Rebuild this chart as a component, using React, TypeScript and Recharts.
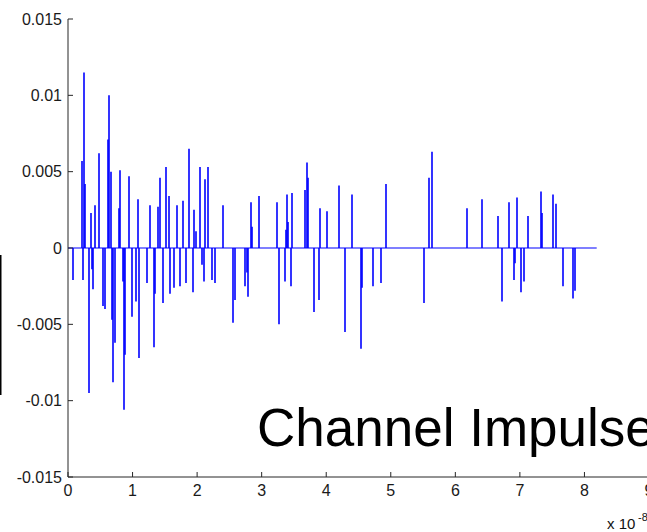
import React from 'react';
import { ComposedChart, Bar, XAxis, YAxis, ReferenceLine } from 'recharts';

// time axis values are in units of 1e-8 s
const stemTimes = [
  0.081, 0.225, 0.236, 0.251, 0.26, 0.333, 0.36, 0.375, 0.395, 0.415,
  0.478, 0.54, 0.581, 0.623, 0.643, 0.664, 0.685, 0.705, 0.726,
  0.788, 0.809, 0.85, 0.871, 0.891, 0.953, 0.995, 1.047, 1.078, 1.104,
  1.228, 1.274, 1.325, 1.341, 1.398, 1.419, 1.476, 1.522, 1.563,
  1.585, 1.647, 1.687, 1.729, 1.786, 1.833, 1.873, 1.935, 1.957, 1.977,
  2.039, 2.081, 2.101, 2.127, 2.163, 2.225, 2.271, 2.395,
  2.561, 2.581, 2.747, 2.767, 2.788, 2.829, 2.85, 2.958,
  3.233, 3.268, 3.357, 3.372, 3.392, 3.414, 3.454, 3.476,
  3.667, 3.702, 3.724, 3.806, 3.888, 3.91, 4.019,
  4.205, 4.295, 4.395, 4.535, 4.555, 4.726, 4.85, 4.933,
  5.516, 5.6, 5.646, 6.183,
  6.411, 6.659, 6.721, 6.829, 6.907, 6.927, 6.949, 7.011, 7.057, 7.119,
  7.326, 7.346, 7.516, 7.558, 7.662, 7.826, 7.848,
];

const stemAmps = [
  -0.0021, 0.0057, -0.0021, 0.0115, 0.0042, -0.0095, 0.0023, -0.0014, -0.0027, 0.0028,
  0.0062, -0.0038, -0.004, 0.0071, 0.01, 0.005, -0.0047, -0.0088, -0.0062,
  0.0026, 0.0051, -0.0022, -0.0106, -0.007, 0.0047, -0.0045, -0.0035, 0.0032, -0.0072,
  -0.0023, 0.0028, -0.0065, -0.003, 0.0027, 0.0046, -0.0036, 0.0053, 0.0034,
  -0.003, -0.0026, 0.0028, -0.0025, 0.0031, -0.0023, 0.0065, -0.0029, 0.0025, 0.0011,
  0.0053, -0.0011, -0.0022, 0.0045, 0.0053, -0.0021, -0.0023, 0.0028,
  -0.0049, -0.0034, -0.0025, -0.0016, -0.0032, 0.003, 0.0014, 0.0034,
  0.003, -0.005, -0.0022, 0.0012, 0.0035, 0.0017, -0.0025, 0.0036,
  0.0038, 0.0056, 0.0046, -0.0042, -0.0034, 0.0026, 0.0024,
  0.0041, -0.0055, 0.0035, -0.0066, -0.0026, -0.0025, -0.0023, 0.0042,
  -0.0036, 0.0046, 0.0063, 0.0026,
  0.0032, 0.0021, -0.0035, 0.003, -0.0021, -0.001, 0.0033, -0.0029, -0.0022, 0.0021,
  0.0037, 0.0023, 0.0035, 0.0029, -0.0025, -0.0033, -0.0028,
];

const timeEnd = 8.19;
const xTicks = [0, 1, 2, 3, 4, 5, 6, 7, 8, 9];
const yTicks = [-0.015, -0.01, -0.005, 0, 0.005, 0.01, 0.015];
const yTickLabels = ['-0.015', '-0.01', '-0.005', '0', '0.005', '0.01', '0.015'];

const data = stemTimes.map((t, i) => ({ t, h: stemAmps[i] }));

const BLUE = '#0000ff';
const AXIS = '#262626';
const FONT = '"Liberation Sans", Arial, Helvetica, sans-serif';

const Stem = (props: any) => {
  const { x, y, width, height } = props;
  if (x == null || y == null) return null;
  const cx = Math.round(x + (width || 0) / 2);
  return <line x1={cx} x2={cx} y1={y} y2={y + height} stroke={BLUE} strokeWidth={1.6} />;
};

const yFmt = (v: number) => {
  const i = yTicks.findIndex((t) => Math.abs(t - v) < 1e-9);
  return i >= 0 ? yTickLabels[i] : String(v);
};

export default function App() {
  return (
    <div style={{ position: 'absolute', left: 0, top: 0, width: 647, height: 532, overflow: 'hidden', background: '#fff' }}>
      <ComposedChart
        width={700}
        height={532}
        data={data}
        margin={{ top: 19, right: 51, bottom: 0, left: 0 }}
        style={{ fontFamily: FONT }}
      >
        <XAxis
          xAxisId="b"
          dataKey="t"
          type="number"
          domain={[0, 9]}
          ticks={xTicks}
          allowDataOverflow
          orientation="bottom"
          height={55}
          tickSize={-5}
          tickMargin={13}
          stroke={AXIS}
          tick={{ fill: '#1a1a1a', fontSize: 16, fontFamily: FONT }}
        />
        <XAxis
          xAxisId="t"
          dataKey="t"
          type="number"
          domain={[0, 9]}
          ticks={xTicks}
          allowDataOverflow
          orientation="top"
          height={0}
          tickSize={-5}
          stroke={AXIS}
          tickFormatter={() => ''}
        />
        <YAxis
          yAxisId="l"
          type="number"
          domain={[-0.015, 0.015]}
          ticks={yTicks}
          allowDataOverflow
          orientation="left"
          width={68}
          tickSize={-5}
          tickMargin={11}
          stroke={AXIS}
          tickFormatter={yFmt}
          tick={{ fill: '#1a1a1a', fontSize: 16, fontFamily: FONT }}
        />
        <YAxis
          yAxisId="r"
          type="number"
          domain={[-0.015, 0.015]}
          ticks={yTicks}
          allowDataOverflow
          orientation="right"
          width={0}
          tickSize={-5}
          stroke={AXIS}
          tickFormatter={() => ''}
        />
        <ReferenceLine
          xAxisId="b"
          yAxisId="l"
          segment={[{ x: 0, y: 0 }, { x: timeEnd, y: 0 }]}
          stroke={BLUE}
          strokeWidth={1.2}
          ifOverflow="visible"
        />
        <Bar
          xAxisId="b"
          yAxisId="l"
          dataKey="h"
          barSize={1}
          shape={Stem}
          isAnimationActive={false}
        />
      </ComposedChart>
      <svg width={647} height={532} style={{ position: 'absolute', left: 0, top: 0, pointerEvents: 'none' }}>
        <line x1={0.75} x2={0.75} y1={255} y2={395} stroke="#000" strokeWidth={1.5} />
        <text x={257} y={446} fontSize={53} fontFamily={FONT} fill="#000">Channel Impulse</text>
        <text x={607} y={529} fontSize={15} fontFamily={FONT} fill="#111">x 10</text>
        <text x={638} y={521} fontSize={11} fontFamily={FONT} fill="#111">-8</text>
      </svg>
    </div>
  );
}
